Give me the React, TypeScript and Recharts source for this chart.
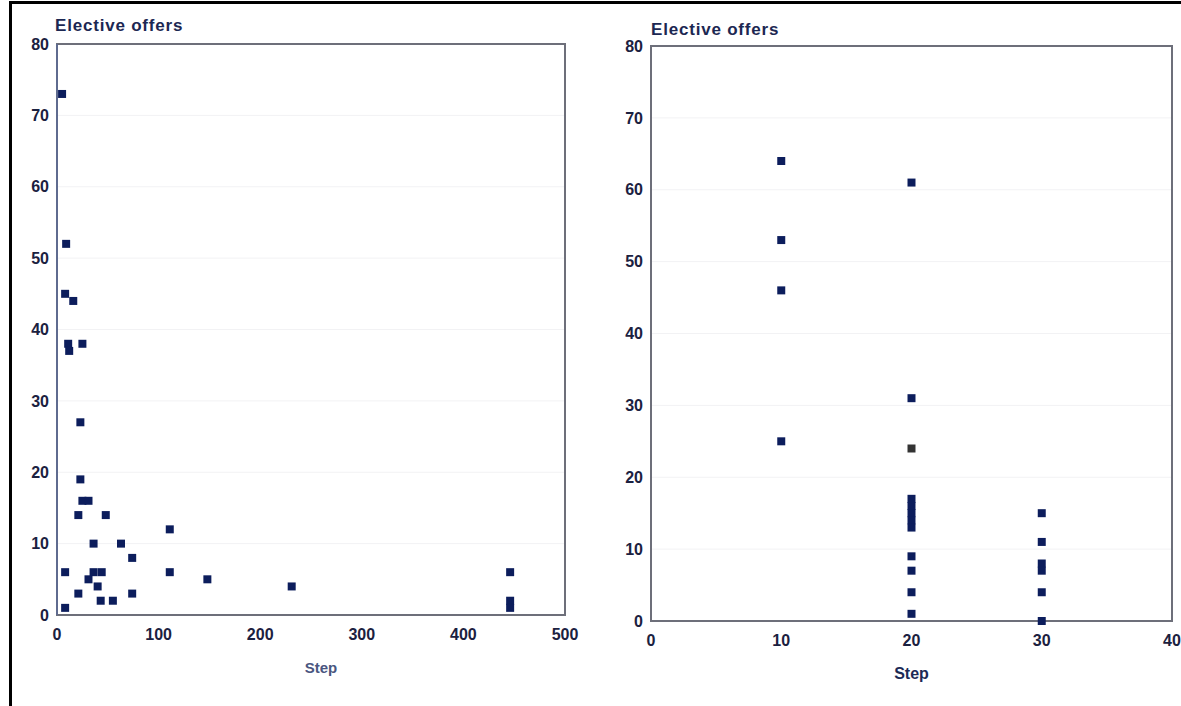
import React from 'react';
import { ScatterChart, Scatter, XAxis, YAxis, ZAxis, CartesianGrid, ReferenceArea } from 'recharts';

// Left panel: Elective offers vs Step (0-500)
const leftSteps = [5, 9, 8, 16, 11, 12, 25, 23, 23, 25, 31, 21, 48, 36, 63, 74, 111, 111, 8, 36, 44, 31, 148, 40, 231, 21, 74, 43, 55, 8, 446, 446, 446];
const leftOffers = [73, 52, 45, 44, 38, 37, 38, 27, 19, 16, 16, 14, 14, 10, 10, 8, 12, 6, 6, 6, 6, 5, 5, 4, 4, 3, 3, 2, 2, 1, 6, 2, 1];

// Right panel: Elective offers vs Step (0-40)
const rightSteps = [10, 10, 10, 10, 20, 20, 20, 20, 20, 20, 20, 20, 20, 20, 20, 30, 30, 30, 30, 30, 30];
const rightOffers = [64, 53, 46, 25, 61, 31, 17, 16, 15, 14, 13, 9, 7, 4, 1, 15, 11, 8, 7, 4, 0];
const rightGraySteps = [20];
const rightGrayOffers = [24];

const leftXTicks = [0, 100, 200, 300, 400, 500];
const rightXTicks = [0, 10, 20, 30, 40];
const yTicks = [0, 10, 20, 30, 40, 50, 60, 70, 80];

const FONT = '"Liberation Sans", Arial, Helvetica, sans-serif';
const NAVY = '#0c1d5c';

const toPoints = (xs: number[], ys: number[]) => xs.map((x, i) => ({ step: x, offers: ys[i] }));

const tickStyle = { fill: '#1b2140', fontSize: 16, fontWeight: 'bold' as const, fontFamily: FONT };

const titleStyle: React.CSSProperties = {
  position: 'absolute',
  fontFamily: FONT,
  fontWeight: 'bold',
  fontSize: 17,
  letterSpacing: 0.8,
  color: '#1c2752',
  lineHeight: '20px',
  whiteSpace: 'nowrap',
};

export default function App() {
  const leftData = toPoints(leftSteps, leftOffers);
  const rightData = toPoints(rightSteps, rightOffers);
  const rightGray = toPoints(rightGraySteps, rightGrayOffers);
  return (
    <div style={{ position: 'absolute', left: 0, top: 0, width: 1181, height: 706, background: '#fff', overflow: 'hidden' }}>
      <div style={{ position: 'absolute', left: 9, top: 1, width: 1180, height: 710, borderTop: '3px solid #000', borderLeft: '3px solid #000' }} />

      <div style={{ position: 'absolute', left: 0, top: 0 }}>
        <ScatterChart width={600} height={706} margin={{ top: 44, right: 35, bottom: 31, left: 0 }}>
          <CartesianGrid vertical={false} stroke="#f2f2f4" />
          <XAxis
            type="number"
            dataKey="step"
            domain={[0, 500]}
            ticks={leftXTicks}
            axisLine={false}
            tickLine={false}
            tick={tickStyle}
            tickMargin={8}
            height={60}
            label={{ value: 'Step', position: 'insideBottom', offset: 2, dx: 10, fill: '#4a5680', fontSize: 15, fontWeight: 'bold', fontFamily: FONT }}
          />
          <YAxis
            type="number"
            dataKey="offers"
            domain={[0, 80]}
            ticks={yTicks}
            axisLine={{ stroke: '#5f6b8f', strokeWidth: 2 }}
            tickLine={false}
            tick={tickStyle}
            width={57}
          />
          <ZAxis range={[64, 64]} />
          <ReferenceArea x1={0} x2={500} y1={0} y2={80} fill="none" fillOpacity={0} stroke="#6d6f7a" strokeWidth={2} />
          <Scatter data={leftData} fill={NAVY} shape="square" isAnimationActive={false} />
        </ScatterChart>
      </div>

      <div style={{ position: 'absolute', left: 600, top: 0 }}>
        <ScatterChart width={581} height={706} margin={{ top: 46, right: 9, bottom: 25, left: 0 }}>
          <CartesianGrid vertical={false} stroke="#f2f2f4" />
          <XAxis
            type="number"
            dataKey="step"
            domain={[0, 40]}
            ticks={rightXTicks}
            axisLine={false}
            tickLine={false}
            tick={tickStyle}
            tickMargin={8}
            height={60}
            label={{ value: 'Step', position: 'insideBottom', offset: 2, fill: '#1c2a55', fontSize: 16, fontWeight: 'bold', fontFamily: FONT }}
          />
          <YAxis
            type="number"
            dataKey="offers"
            domain={[0, 80]}
            ticks={yTicks}
            axisLine={false}
            tickLine={false}
            tick={tickStyle}
            width={51}
          />
          <ZAxis range={[64, 64]} />
          <ReferenceArea x1={0} x2={40} y1={0} y2={80} fill="none" fillOpacity={0} stroke="#6d6f7a" strokeWidth={2} />
          <Scatter data={rightData} fill={NAVY} shape="square" isAnimationActive={false} />
          <Scatter data={rightGray} fill="#333333" shape="square" isAnimationActive={false} />
        </ScatterChart>
      </div>

      <div style={{ ...titleStyle, left: 55, top: 16 }}>Elective offers</div>
      <div style={{ ...titleStyle, left: 651, top: 20 }}>Elective offers</div>
    </div>
  );
}
